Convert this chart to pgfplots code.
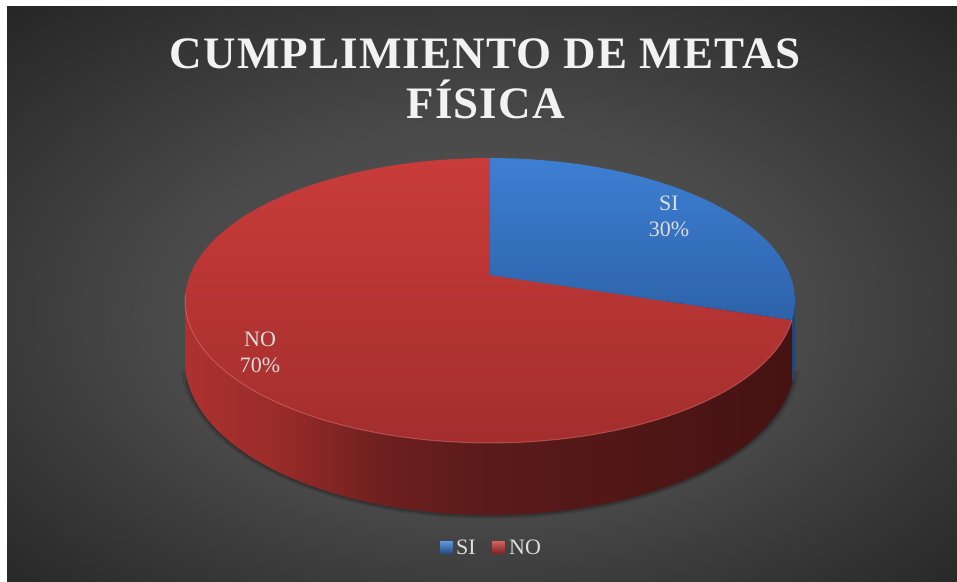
\documentclass[border=0pt]{standalone}
\usepackage{pgfplots}
\pgfplotsset{compat=1.18}
\usepackage{pgfplotstable}
\usepackage{fontspec}
\setmainfont{Liberation Serif}

\definecolor{bg0}{HTML}{5A5A5A}
\definecolor{bg1}{HTML}{494949}
\definecolor{bg2}{HTML}{383838}
\definecolor{bg3}{HTML}{262626}
\definecolor{redTop}{HTML}{C83C3A}
\definecolor{redBot}{HTML}{A32E2D}
\definecolor{blueTop}{HTML}{3D7FD3}
\definecolor{blueBot}{HTML}{2D62A9}
\definecolor{s0}{RGB}{172,50,48}
\definecolor{s1}{RGB}{152,43,41}
\definecolor{s2}{RGB}{110,32,31}
\definecolor{s3}{RGB}{90,26,26}
\definecolor{s4}{RGB}{70,18,18}
\definecolor{blueSide}{HTML}{1F4478}
\definecolor{titlecol}{HTML}{F2F2F2}
\definecolor{labcol}{HTML}{DDDDDD}

\pgfdeclareradialshading{bgshade}{\pgfpoint{0bp}{-3bp}}{color(0bp)=(bg0); color(17bp)=(bg1); color(26bp)=(bg2); color(36bp)=(bg3); color(50bp)=(bg3)}
\pgfdeclarehorizontalshading{sideshade}{100bp}{color(0bp)=(s0); color(25bp)=(s0); color(33bp)=(s1); color(41bp)=(s2); color(50bp)=(s3); color(75bp)=(s4); color(100bp)=(s4)}

\pgfplotstableread{
label value
SI 30
NO 70
}\piedata

% perspective projection of the pie's circle (pixels, y downwards)
\newcommand\PX[1]{490+300*cos(#1)/(1+0.179*sin(#1))}
\newcommand\PY[1]{275-137.9*sin(#1)/(1+0.179*sin(#1))}
\newcommand\PB[1]{275-137.9*sin(#1)/(1+0.179*sin(#1))+59.1/(1+0.179*sin(#1))}

\newcommand\titlefont{\fontsize{45}{50}\selectfont\bfseries\addfontfeatures{LetterSpace=2.5}}
\newcommand\labfont{\fontsize{22}{26}\selectfont}

\begin{document}
\begin{tikzpicture}
\pgfplotstablegetelem{0}{value}\of\piedata
\pgfmathtruncatemacro\vSI{\pgfplotsretval}
\pgfplotstablegetelem{1}{value}\of\piedata
\pgfmathtruncatemacro\vNO{\pgfplotsretval}
\pgfmathsetmacro\aS{90-3.6*\vSI}
\pgfmathsetmacro\aN{\aS-3.6*\vNO}
\pgfmathsetmacro\xS{\PX{\aS}}
\pgfmathsetmacro\yS{\PY{\aS}}
\begin{axis}[at={(0,0)}, anchor=south west, scale only axis, width=957pt, height=581pt,
  xmin=0, xmax=957, ymin=0, ymax=581, enlargelimits=false, y dir=reverse,
  hide axis, clip=false, samples=120]
% background
\fill[white] (axis cs:0,0) rectangle (axis cs:957,581);
\shade[shading=bgshade] (axis cs:7,6) rectangle (axis cs:957,581);
% title
\node[anchor=base, text=titlecol, font=\titlefont] at (axis cs:485.5,68.5) {CUMPLIMIENTO DE METAS};
\node[anchor=base, text=titlecol, font=\titlefont] at (axis cs:485.5,118.5) {FÍSICA};
% shadow under the pie
\addplot[draw=black, opacity=0.12, line width=10pt, domain=-166:-14, variable=\t] ({\PX{\t}},{\PB{\t}-1});
\addplot[draw=black, opacity=0.2, line width=4pt, domain=-163:-17, variable=\t] ({\PX{\t}},{\PB{\t}});
% side wall (visible front part)
\addplot[shade, shading=sideshade, draw=none, domain=-169.69:-10.31, variable=\t]
  ({\PX{\t}},{\PB{\t}}) -- (axis cs:794.9,300.5) -- (axis cs:185.1,300.5) -- cycle;
\addplot[fill=blueSide, draw=none, domain=\aS:-10.31, samples=12, variable=\t]
  ({\PX{\t}},{\PB{\t}}) -- (axis cs:794.9,300.5) -- (axis cs:\xS,\yS) -- cycle;
% top faces
\addplot[top color=redTop, bottom color=redBot, draw=none, domain=\aN:\aS, variable=\t]
  ({\PX{\t}},{\PY{\t}}) -- (axis cs:490,275) -- cycle;
\addplot[top color=blueTop, bottom color=blueBot, draw=none, domain=\aS:90, samples=60, variable=\t]
  ({\PX{\t}},{\PY{\t}}) -- (axis cs:490,275) -- cycle;
% rim highlight
\addplot[draw=red!40!white, opacity=0.35, line width=1pt, domain=-172:\aS, variable=\t] ({\PX{\t}},{\PY{\t}});
% data labels
\node[anchor=base, text=labcol, font=\labfont] at (axis cs:669,210) {SI};
\node[anchor=base, text=labcol, font=\labfont] at (axis cs:669,236.5) {\vSI\%};
\node[anchor=base, text=labcol, font=\labfont] at (axis cs:260,346) {NO};
\node[anchor=base, text=labcol, font=\labfont] at (axis cs:260,372) {\vNO\%};
% legend
\shade[top color=blueTop!80!white, bottom color=blueBot!80!black] (axis cs:440,541) rectangle (axis cs:452.5,553);
\shade[top color=redTop!80!white, bottom color=redBot!80!black] (axis cs:492,541) rectangle (axis cs:504.5,553);
\node[anchor=base west, inner sep=0pt, text=labcol, font=\labfont] at (axis cs:456,554) {SI};
\node[anchor=base west, inner sep=0pt, text=labcol, font=\labfont] at (axis cs:509,554) {NO};
\end{axis}
\pgfresetboundingbox
\useasboundingbox (0,0) rectangle (957pt,581pt);
\end{tikzpicture}
\end{document}
